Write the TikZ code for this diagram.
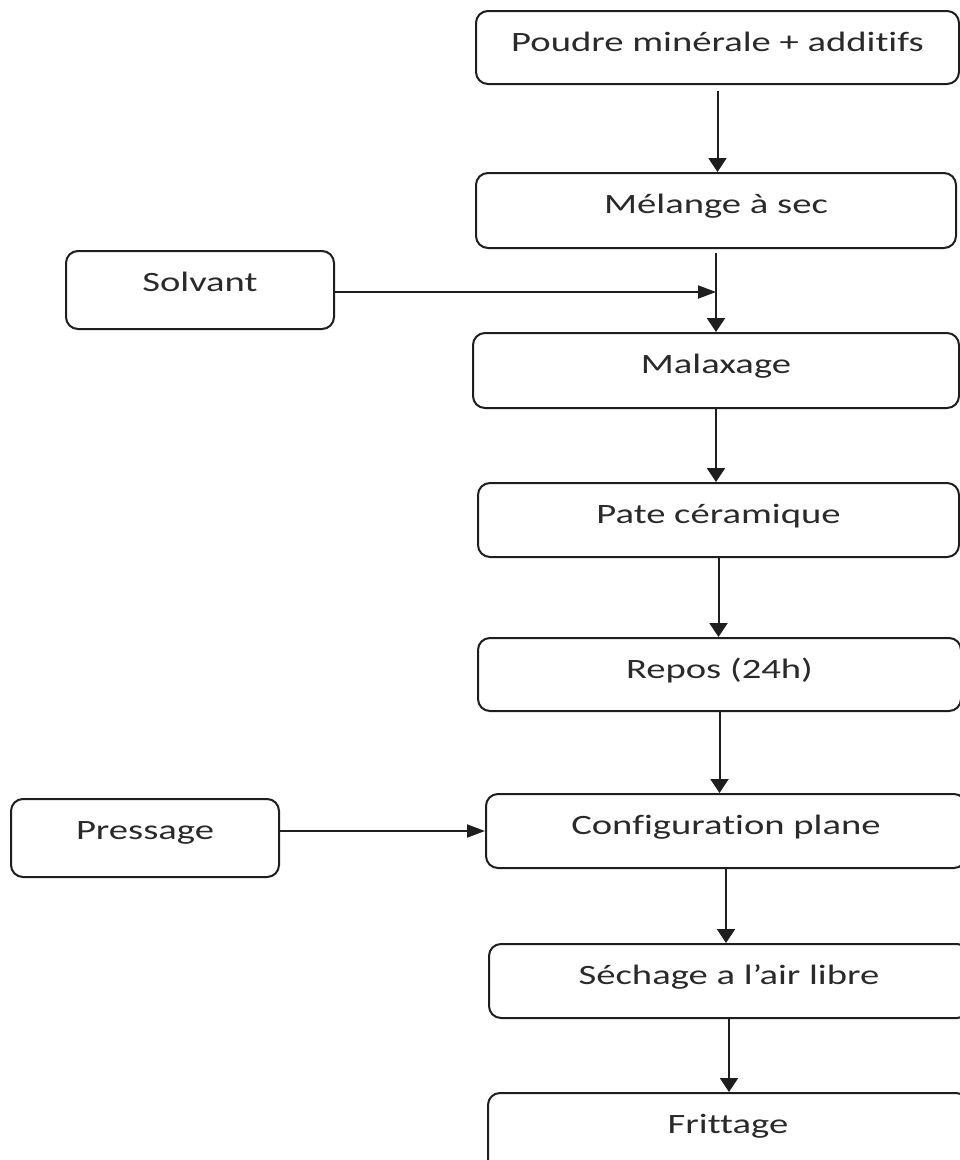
\documentclass[tikz,border=0pt]{standalone}
\usepackage{fontspec}
\setmainfont{Carlito}[FakeStretch=1.38, Ligatures=NoCommon]
\usetikzlibrary{arrows.meta}
\definecolor{ink}{HTML}{1E1E1E}
\definecolor{txt}{HTML}{2A2A2A}
\begin{document}
\begin{tikzpicture}[x=1bp,y=-1bp,
  box/.style={draw=ink, line width=2bp, rounded corners=12bp, anchor=north west,
    inner xsep=0pt, inner ysep=0pt, text height=40bp, align=center,
    font=\fontsize{28bp}{32bp}\selectfont, text=txt},
  vflow/.style={draw=ink, line width=2bp, -{Triangle[length=14bp,width=18bp]}},
  hflow/.style={draw=ink, line width=2bp, -{Triangle[length=18bp,width=13bp]}}]
\useasboundingbox (0,0) rectangle (960,1160);
\node[box, minimum width=483bp, text depth=33bp] (poudre) at (475,10) {Poudre minérale + additifs};
\node[box, minimum width=480bp, text depth=35bp] (melange) at (475,172) {Mélange à sec};
\node[box, minimum width=268bp, text depth=38bp] (solvant) at (65,250) {Solvant};
\node[box, minimum width=486bp, text depth=35bp] (malaxage) at (472,332) {Malaxage};
\node[box, minimum width=481bp, text depth=34bp] (pate) at (477,482) {Pate céramique};
\node[box, minimum width=483bp, text depth=33bp] (repos) at (477,637) {Repos (24h)};
\node[box, minimum width=480bp, text depth=34bp] (config) at (485,793) {Configuration plane};
\node[box, minimum width=268bp, text depth=38bp] (pressage) at (10,798) {Pressage};
\node[box, minimum width=480bp, text depth=34bp] (sechage) at (488,943) {Séchage a l’air libre};
\node[box, minimum width=480bp, text depth=45bp] (frittage) at (487,1092) {Frittage};
\coordinate (j) at (melange.south |- 0,292);
\draw[vflow, shorten <=6bp] (poudre.south) -- (poudre.south |- melange.north);
\draw[vflow, shorten <=4bp] (melange.south) -- (melange.south |- malaxage.north);
\draw[hflow] (solvant.east |- j) -- (j);
\draw[vflow] (malaxage.south) -- (malaxage.south |- pate.north);
\draw[vflow] (pate.south) -- (pate.south |- repos.north);
\draw[vflow] (repos.south) -- (repos.south |- config.north);
\draw[hflow] (pressage.east |- config.west) -- (config.west);
\draw[vflow] (config.south) -- (config.south |- sechage.north);
\draw[vflow] (sechage.south) -- (sechage.south |- frittage.north);
\end{tikzpicture}
\end{document}
